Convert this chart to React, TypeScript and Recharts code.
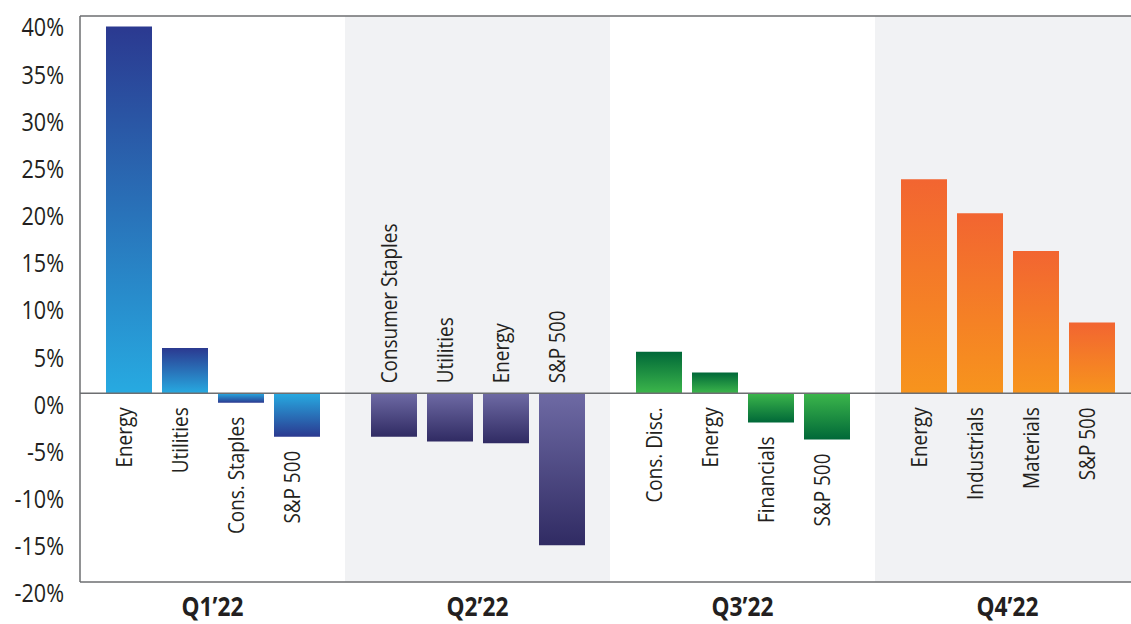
import { BarChart, Bar, XAxis, YAxis, Cell, LabelList, ReferenceArea, ReferenceLine } from 'recharts';

const quarters = ['Q1’22', 'Q2’22', 'Q3’22', 'Q4’22'];

const q1Sectors = ['Energy', 'Utilities', 'Cons. Staples', 'S&P 500'];
const q1Returns = [38.9, 4.8, -1.0, -4.6];
const q2Sectors = ['Consumer Staples', 'Utilities', 'Energy', 'S&P 500'];
const q2Returns = [-4.6, -5.1, -5.3, -16.1];
const q3Sectors = ['Cons. Disc.', 'Energy', 'Financials', 'S&P 500'];
const q3Returns = [4.4, 2.2, -3.1, -4.9];
const q4Sectors = ['Energy', 'Industrials', 'Materials', 'S&P 500'];
const q4Returns = [22.7, 19.1, 15.1, 7.5];

const yTicks = [-20, -15, -10, -5, 0, 5, 10, 15, 20, 25, 30, 35, 40];
const shadedQuarters = ['Q2’22', 'Q4’22'];

// [far end of bar, end at the zero line]
const palettes = [
  ['#2b3990', '#27aae1'],
  ['#302b63', '#6e6aa4'],
  ['#006838', '#3cb64b'],
  ['#f26531', '#f7941d'],
];

const sectors = [q1Sectors, q2Sectors, q3Sectors, q4Sectors];
const returns = [q1Returns, q2Returns, q3Returns, q4Returns];

const data = quarters.map((quarter, qi) => {
  const row: Record<string, string | number> = { quarter };
  returns[qi].forEach((v, i) => {
    row[`v${i}`] = v;
    row[`n${i}`] = sectors[qi][i];
  });
  return row;
});

// no condensed face available, so squeeze Open Sans horizontally
const FONT = "'Open Sans', 'Noto Sans', sans-serif";
const INK = '#231f20';
const FRAME = '#6d6e71';

const YTick = ({ x, y, payload }: any) => (
  <g transform={`translate(${x},${y + 10}) scale(0.83,1)`}>
    <text x={0} y={0} textAnchor="end" dominantBaseline="central" fontSize={26} fill={INK} fontFamily={FONT}>
      {payload.value}%
    </text>
  </g>
);

const XTick = ({ x, y, payload }: any) => (
  <g transform={`translate(${x},${y + 34}) scale(0.84,1)`}>
    <text x={0} y={0} textAnchor="middle" fontSize={27} fontWeight="bold" fill={INK} fontFamily={FONT}>
      {payload.value}
    </text>
  </g>
);

function SectorLabel(props: any) {
  const { series, value } = props;
  const vb = props.viewBox || props;
  const qi = props.index ?? 0;
  const top = Math.min(vb.y, vb.y + vb.height);
  const bottom = Math.max(vb.y, vb.y + vb.height);
  const cx = vb.x + vb.width / 2 + 3;
  const allNegative = returns[qi].every((r) => r < 0);
  let ty: number;
  let anchor: 'start' | 'end';
  if (allNegative) {
    ty = top - 10;
    anchor = 'start';
  } else {
    ty = bottom + 14;
    anchor = 'end';
  }
  return (
    <g transform={`translate(${cx},${ty}) rotate(-90) scale(0.86,1)`}>
      <text x={0} y={0} textAnchor={anchor} fontSize={22} fill={INK} fontFamily={FONT}>
        {value}
      </text>
    </g>
  );
}

export default function App() {
  return (
    <div style={{ position: 'absolute', left: 0, top: 0, width: 1131, height: 624, overflow: 'hidden', background: '#fff' }}>
      <BarChart
        width={1145}
        height={624}
        data={data}
        margin={{ top: 16, right: 5, bottom: 12, left: 0 }}
        barGap={10}
      >
        <defs>
          {palettes.map(([far, near], qi) => (
            <g key={qi}>
              <linearGradient id={`g${qi}p`} x1="0" y1="0" x2="0" y2="1">
                <stop offset="0%" stopColor={far} />
                <stop offset="100%" stopColor={near} />
              </linearGradient>
              <linearGradient id={`g${qi}n`} x1="0" y1="0" x2="0" y2="1">
                <stop offset="0%" stopColor={near} />
                <stop offset="100%" stopColor={far} />
              </linearGradient>
            </g>
          ))}
        </defs>
        {shadedQuarters.map((q) => (
          <ReferenceArea key={q} x1={q} x2={q} y1={-20} y2={40} fill="#f1f2f4" fillOpacity={1} stroke="none" />
        ))}
        <XAxis
          dataKey="quarter"
          height={30}
          tick={<XTick />}
          tickLine={false}
          tickSize={0}
          tickMargin={0}
          axisLine={{ stroke: FRAME, strokeWidth: 1.5 }}
          interval={0}
        />
        <YAxis
          width={80}
          domain={[-20, 40]}
          ticks={yTicks}
          interval={0}
          tick={<YTick />}
          tickLine={false}
          tickSize={0}
          tickMargin={16}
          axisLine={{ stroke: FRAME, strokeWidth: 1.5 }}
        />
        {[0, 1, 2, 3].map((i) => (
          <Bar key={i} dataKey={`v${i}`} barSize={46} isAnimationActive={false}>
            {data.map((row, qi) => (
              <Cell key={qi} fill={`url(#g${qi}${(row[`v${i}`] as number) >= 0 ? 'p' : 'n'})`} />
            ))}
            <LabelList dataKey={`n${i}`} content={(p: any) => <SectorLabel {...p} series={i} />} />
          </Bar>
        ))}
        <ReferenceLine y={0} stroke={FRAME} strokeWidth={1.5} />
        <ReferenceLine y={40} stroke={FRAME} strokeWidth={1.5} />
      </BarChart>
    </div>
  );
}
